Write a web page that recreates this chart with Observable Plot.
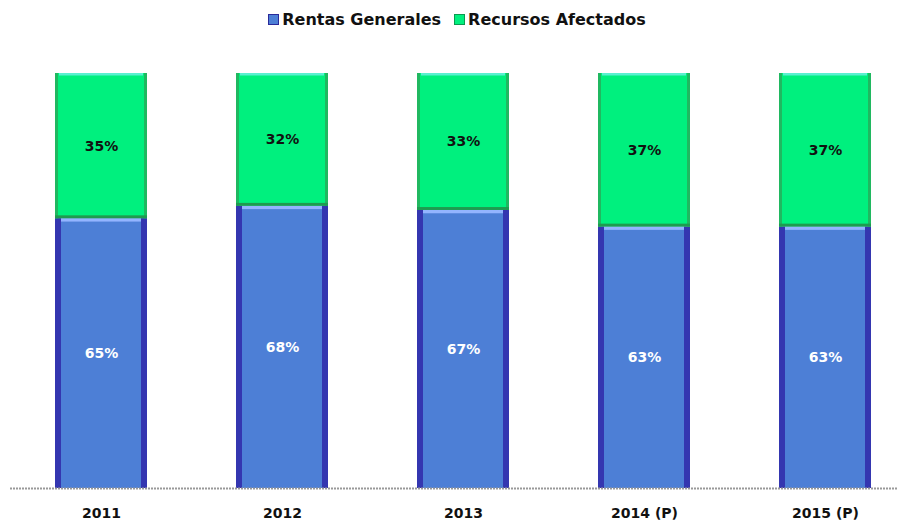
<!DOCTYPE html>
<html>
<head>
<meta charset="utf-8">
<script src="https://cdn.jsdelivr.net/npm/d3@7"></script>
<script src="https://cdn.jsdelivr.net/npm/@observablehq/plot@0.6"></script>
<style>
  body { margin: 0; background: #fff; font-family: "DejaVu Sans", Verdana, sans-serif; }
  #legend { height: 42px; display: flex; justify-content: center; align-items: center; gap: 13px;
            font-weight: bold; font-size: 16px; color: #111; padding-left: 12px; box-sizing: border-box; padding-bottom: 3px; }
  .item { display: flex; align-items: center; gap: 3px; }
  .sw { width: 9px; height: 9px; display: inline-block; }
</style>
</head>
<body>
<div id="legend"></div>
<div id="chart"></div>
<script>
const years = ["2011", "2012", "2013", "2014 (P)", "2015 (P)"];
const rentasGenerales = [65, 68, 67, 63, 63];
const recursosAfectados = [35, 32, 33, 37, 37];
const seriesNames = ["Rentas Generales", "Recursos Afectados"];
const seriesColors = ["#4d7fd6", "#00f07e"];
const labelColors = ["#ffffff", "#111111"];

const legend = document.getElementById("legend");
seriesNames.forEach((n, i) => {
  const it = document.createElement("span");
  it.className = "item";
  it.innerHTML = `<span class="sw" style="background:${seriesColors[i]};border:1px solid ${i ? '#0a9a50' : '#2a2a9a'}"></span>${n}`;
  legend.appendChild(it);
});

const data = [];
years.forEach((y, i) => {
  data.push({year: y, series: seriesNames[0], value: rentasGenerales[i], y1: 0, y2: rentasGenerales[i]});
  data.push({year: y, series: seriesNames[1], value: recursosAfectados[i], y1: rentasGenerales[i], y2: rentasGenerales[i] + recursosAfectados[i]});
});
const blue = data.filter(d => d.series === seriesNames[0]);
const green = data.filter(d => d.series === seriesNames[1]);

const chart = Plot.plot({
  width: 902,
  height: 479,
  marginTop: 31,
  marginBottom: 33,
  marginLeft: 35,
  marginRight: 12,
  style: {fontFamily: "DejaVu Sans, Verdana, sans-serif"},
  x: {domain: years, paddingInner: 0.494, paddingOuter: 0.1, label: null},
  y: {domain: [0, 100], axis: null},
  color: {domain: seriesNames, range: seriesColors},
  marks: [
    Plot.rectY(data, {x: "year", y1: "y1", y2: "y2", fill: "series"}),
    // bevel: dark side edges on blue
    Plot.rectY(blue, {x: "year", y1: "y1", y2: "y2", fill: "#3436b0", insetRight: 86}),
    Plot.rectY(blue, {x: "year", y1: "y1", y2: "y2", fill: "#3436b0", insetLeft: 86}),
    // light top strip on blue
    Plot.rectY(blue, {x: "year", y1: d => d.y2 - 0.8, y2: "y2", fill: "#93b4ff", insetLeft: 6, insetRight: 6}),
    // green edges
    Plot.rectY(green, {x: "year", y1: "y1", y2: "y2", fill: "#20b860", insetRight: 89}),
    Plot.rectY(green, {x: "year", y1: "y1", y2: "y2", fill: "#20b860", insetLeft: 89}),
    Plot.rectY(green, {x: "year", y1: "y1", y2: d => d.y1 + 0.7, fill: "#1f9a50"}),
    Plot.rectY(green, {x: "year", y1: d => d.y2 - 0.6, y2: "y2", fill: "#5af0d0", insetLeft: 4, insetRight: 4}),
    Plot.text(data, {
      x: "year", y: d => (d.y1 + d.y2) / 2, text: d => d.value + "%",
      fill: d => d.series === seriesNames[0] ? labelColors[0] : labelColors[1],
      fontWeight: "bold", fontSize: 14
    }),
    Plot.ruleY([0], {stroke: "#999", strokeWidth: 2, strokeDasharray: "2,1", insetLeft: -25, insetRight: -7}),
    Plot.axisX({tickSize: 0, tickPadding: 20, fontSize: 14, fontWeight: "bold", fill: "#111", label: null})
  ]
});
document.getElementById("chart").appendChild(chart);
</script>
</body>
</html>
